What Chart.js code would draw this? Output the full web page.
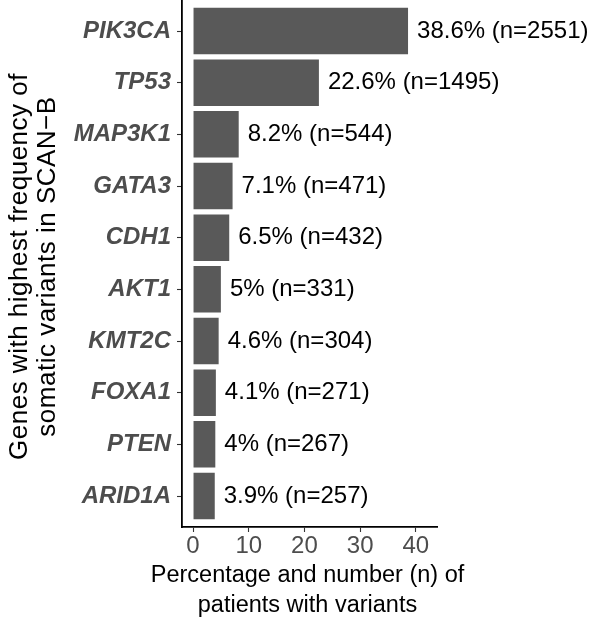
<!DOCTYPE html>
<html>
<head>
<meta charset="utf-8">
<script src="https://cdn.jsdelivr.net/npm/chart.js@4/dist/chart.umd.min.js"></script>
<style>
  html, body { margin: 0; padding: 0; background: #ffffff; }
  canvas { display: block; }
</style>
</head>
<body>
<canvas id="c" width="609" height="619"></canvas>
<script>
const genes = ["PIK3CA", "TP53", "MAP3K1", "GATA3", "CDH1", "AKT1", "KMT2C", "FOXA1", "PTEN", "ARID1A"];
const percents = [38.6, 22.6, 8.2, 7.1, 6.5, 5, 4.6, 4.1, 4, 3.9];
const counts = [2551, 1495, 544, 471, 432, 331, 304, 271, 267, 257];
const xTicks = [0, 10, 20, 30, 40];
const yTitle = ["Genes with highest frequency of", "somatic variants in SCAN\u2212B"];
const xTitle = ["Percentage and number (n) of", "patients with variants"];
const barLabels = percents.map((p, i) => p + "% (n=" + counts[i] + ")");

const FONT = '"Liberation Sans", Arial, Helvetica, sans-serif';

const labelPlugin = {
  id: 'barLabels',
  afterDatasetsDraw(chart) {
    const ctx = chart.ctx;
    const meta = chart.getDatasetMeta(0);
    ctx.save();
    ctx.font = '24px ' + FONT;
    ctx.fillStyle = '#000000';
    ctx.textAlign = 'left';
    ctx.textBaseline = 'middle';
    meta.data.forEach((bar, i) => {
      ctx.fillText(barLabels[i], bar.x + 9, bar.y);
    });
    ctx.restore();
  },
  afterDraw(chart) {
    const ctx = chart.ctx;
    const area = chart.chartArea;
    ctx.save();
    ctx.fillStyle = '#000000';
    ctx.textAlign = 'center';
    ctx.textBaseline = 'alphabetic';
    // x-axis title
    ctx.font = '23.5px ' + FONT;
    const cx = (area.left + area.right) / 2 - 2;
    ctx.fillText(xTitle[0], cx, 581.5);
    ctx.fillText(xTitle[1], cx, 611.5);
    // y-axis title (rotated)
    ctx.font = '26px ' + FONT;
    try { ctx.letterSpacing = '0.5px'; } catch (e) {}
    const cy = (area.top + area.bottom) / 2 + 3;
    ctx.translate(0, cy);
    ctx.rotate(-Math.PI / 2);
    ctx.fillText(yTitle[0], 0, 26.5);
    ctx.fillText(yTitle[1], 0, 55);
    ctx.restore();
  }
};

new Chart(document.getElementById('c'), {
  type: 'bar',
  data: {
    datasets: [{
      data: percents.map((v, i) => ({ x: v, y: i })),
      backgroundColor: '#595959',
      borderWidth: 0,
      barPercentage: 0.9,
      categoryPercentage: 1.0
    }]
  },
  options: {
    indexAxis: 'y',
    responsive: false,
    animation: false,
    devicePixelRatio: 1,
    layout: { padding: { left: 0, right: 172, top: 0, bottom: 0 } },
    plugins: { legend: { display: false }, tooltip: { enabled: false } },
    scales: {
      x: {
        type: 'linear',
        min: -1.98,
        max: 43.8,
        offset: false,
        afterBuildTicks: (s) => { s.ticks = xTicks.map(v => ({ value: v })); },
        afterFit: (s) => { s.height = 92; s.paddingLeft = 0; s.paddingRight = 0; },
        grid: { offset: false, drawOnChartArea: false, drawTicks: true, tickLength: 5, tickColor: '#333333', tickWidth: 1.1 },
        border: { display: true, color: '#000000', width: 1.8 },
        ticks: { color: '#4d4d4d', font: { family: FONT, size: 24 }, padding: 0, maxRotation: 0 },
        title: { display: false }
      },
      y: {
        type: 'linear',
        reverse: true,
        min: -0.6,
        max: 9.6,
        offset: false,
        afterBuildTicks: (s) => { s.ticks = genes.map((g, i) => ({ value: i })); },
        afterFit: (s) => { s.width = 182; s.paddingTop = 0; s.paddingBottom = 0; },
        grid: { offset: false, drawOnChartArea: false, drawTicks: true, tickLength: 5, tickColor: '#333333', tickWidth: 1.1 },
        border: { display: true, color: '#000000', width: 1.8 },
        ticks: {
          color: '#4d4d4d',
          font: { family: FONT, size: 24, weight: 'bold', style: 'italic' },
          padding: 6,
          callback: (v) => genes[v]
        },
        title: { display: false }
      }
    }
  },
  plugins: [labelPlugin]
});
</script>
</body>
</html>
